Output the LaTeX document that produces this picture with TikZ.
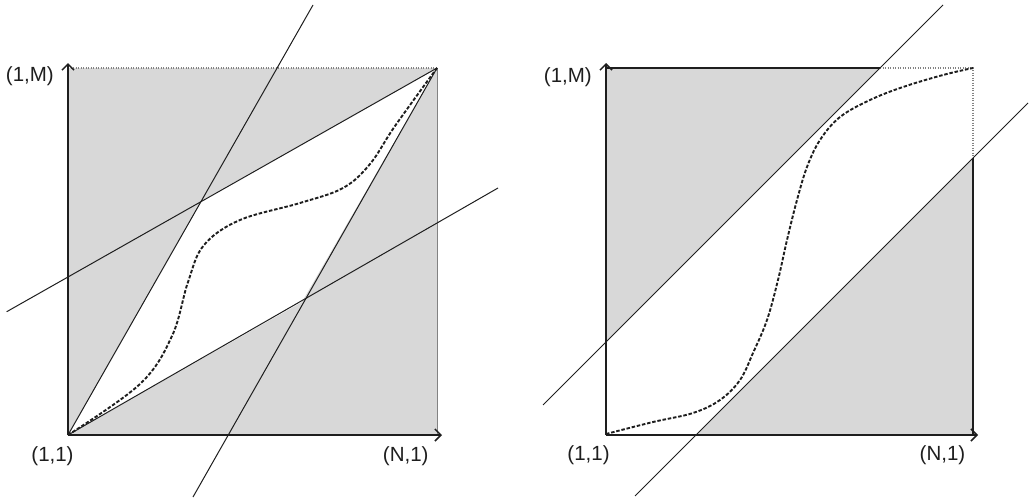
\documentclass[tikz,border=0pt]{standalone}
\usepackage{fontspec}
\setmainfont{Liberation Sans}
\usetikzlibrary{arrows.meta}
\definecolor{fillgray}{RGB}{216,216,216}
\definecolor{inkdark}{RGB}{30,30,30}
\definecolor{edgegray}{RGB}{130,130,130}
\tikzset{
  axisline/.style={draw=inkdark, line width=2pt, -{Straight Barb[length=6pt,width=12pt,line width=1.5pt]}},
  borderline/.style={draw=inkdark, line width=2pt},
  thinline/.style={draw=inkdark, line width=1pt},
  dotedge/.style={draw=edgegray, line width=1.1pt, dash pattern=on 1.3pt off 1.2pt},
  softedge/.style={draw=edgegray, line width=1pt},
  pathcurve/.style={draw=inkdark, line width=1.9pt, dash pattern=on 3.5pt off 1.8pt},
  lbl/.style={inner sep=0pt, text=inkdark, font=\fontsize{20.5}{24}\selectfont},
  grayfill/.style={fill=fillgray, draw=none}
}
\begin{document}
\begin{tikzpicture}[x=1pt,y=-1pt]
\useasboundingbox (0,0) rectangle (1029,498);
% ---------------- left panel ----------------
\coordinate (O1) at (68,435);
\coordinate (T1) at (437,68);
\coordinate (TL1) at (68,68);
\coordinate (BR1) at (437,435);
\coordinate (P1) at (201.8,200.6);
\coordinate (P2) at (301.8,302);
\coordinate (AxU1) at (68,63);
\coordinate (AxR1) at (442,435);
\coordinate (S1a) at (313,5);
\coordinate (S1b) at (193,497);
\coordinate (H1a) at (6.7,311.7);
\coordinate (H1b) at (498,188);
\fill[grayfill] (O1) rectangle (T1);
\fill[white] (O1) -- (P2) -- (T1) -- (P1) -- cycle;
\draw[dotedge] (TL1) -- (T1);
\draw[softedge] (T1) -- (BR1);
\draw[thinline] (O1) -- (S1a);
\draw[thinline] (T1) -- (S1b);
\draw[thinline] (T1) -- (H1a);
\draw[thinline] (O1) -- (H1b);
\draw[pathcurve] plot[smooth, tension=0.6] coordinates {(68,435) (140,384) (172,336) (188,282) (204,245) (240,220) (300,203) (343,188) (370,164) (395,126) (437,68)};
\draw[axisline] (O1) -- (AxU1);
\draw[axisline] (O1) -- (AxR1);
\node[lbl, anchor=east] (lM1) at (54,76) {(1,M)};
\node[lbl] (l111) at (52.5,456) {(1,1)};
\node[lbl] (lN11) at (405.7,456) {(N,1)};
% ---------------- right panel ----------------
\coordinate (O2) at (606,435);
\coordinate (T2) at (973,68);
\coordinate (TL2) at (606,68);
\coordinate (BR2) at (973,435);
\coordinate (UT2) at (880,68);
\coordinate (UL2) at (606,342);
\coordinate (LB2) at (696,435);
\coordinate (LR2) at (973,158);
\coordinate (AxU2) at (606,63);
\coordinate (AxR2) at (978,435);
\coordinate (Ua) at (543,405);
\coordinate (Ub) at (943,5);
\coordinate (La) at (635,496);
\coordinate (Lb) at (1028,103);
\fill[grayfill] (TL2) -- (UT2) -- (UL2) -- cycle;
\fill[grayfill] (LB2) -- (BR2) -- (LR2) -- cycle;
\draw[borderline] (TL2) -- (UT2);
\draw[dotedge] (UT2) -- (T2) -- (LR2);
\draw[borderline] (LR2) -- (BR2);
\draw[thinline] (Ua) -- (Ub);
\draw[thinline] (La) -- (Lb);
\draw[pathcurve] plot[smooth, tension=0.6] coordinates {(606,434) (653,422) (693,413) (720,400) (740,380) (753,353) (767,320) (778,280) (787,240) (797,200) (807,167) (820,140) (840,117) (870,100) (903,87) (943,75) (973,68)};
\draw[axisline] (O2) -- (AxU2);
\draw[axisline] (O2) -- (AxR2);
\node[lbl, anchor=east] (rM1) at (592,77) {(1,M)};
\node[lbl] (r111) at (588.5,455) {(1,1)};
\node[lbl] (rN11) at (942.5,455) {(N,1)};
\end{tikzpicture}
\end{document}
